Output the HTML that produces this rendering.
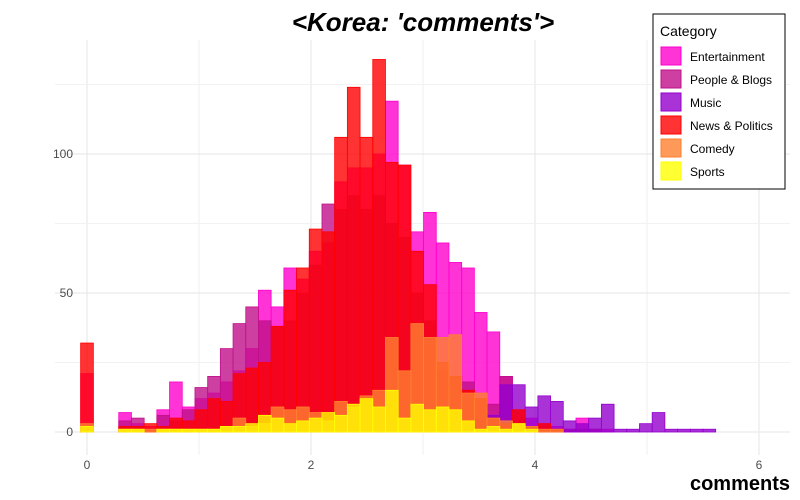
<!DOCTYPE html>
<html><head><meta charset="utf-8"><style>
body{margin:0;background:#fff;}
svg{display:block;font-family:"Liberation Sans",sans-serif;}
</style></head><body>
<svg id="chart" width="800" height="500">
<g id="grid"></g>
<g id="bars"></g>
<g id="axes"></g>
<text x="423" y="31" text-anchor="middle" font-size="26" font-weight="bold" font-style="italic">&lt;Korea: 'comments'&gt;</text>
<text x="790" y="490" text-anchor="end" font-size="20" font-weight="bold">comments</text>
<g id="legend">
<rect x="653" y="14" width="132" height="175" fill="#fff" stroke="#000" stroke-width="1"/>
<text x="660" y="36" font-size="14">Category</text>
</g>
</svg>
<script>
const categories = ["Entertainment","People & Blogs","Music","News & Politics","Comedy","Sports"];
const colors = ["#ff00cc","#c0108a","#9400cc","#ff0000","#ff8030","#ffff00"];
const binWidth = 0.1134;
const entertainment = [21,0,0,7,3,2,8,18,9,12,14,18,22,30,51,45,59,55,65,68,90,95,95,100,119,96,72,79,68,61,59,43,36,20,8,5,3,2,1,5,1,1,0,0,0,0,0,0,0,0];
const peopleBlogs = [0,0,0,4,5,1,6,4,8,16,20,30,39,45,40,38,40,50,60,82,80,85,80,85,75,70,50,40,22,20,18,12,10,20,3,2,2,1,1,1,1,0,0,0,0,0,0,0,0,0];
const music = [0,0,0,0,0,0,0,0,0,0,0,0,0,0,0,0,0,0,0,0,0,0,0,0,0,0,0,0,0,0,2,4,6,17,17,9,13,11,4,3,5,10,1,1,3,7,1,1,1,1];
const news = [32,0,0,2,2,3,2,5,4,8,12,11,21,23,25,38,51,59,73,72,106,124,106,134,97,96,65,53,25,20,15,12,5,3,8,2,3,1,0,0,0,0,0,0,0,0,0,0,0,0];
const comedy = [3,0,0,1,1,1,1,1,1,1,1,2,5,2,3,9,8,9,7,4,11,9,13,15,34,22,39,34,34,35,14,14,5,4,3,2,1,1,0,0,0,0,0,0,0,0,0,0,0,0];
const sports = [2,0,0,1,1,0,1,1,1,1,1,2,2,3,6,5,3,4,5,7,6,10,12,9,15,5,10,8,9,8,4,1,2,1,3,1,0,0,0,0,0,0,0,0,0,0,0,0,0,0];
const xTicks = [0,2,4,6];
const yTicks = [0,50,100];
const series = [entertainment,peopleBlogs,music,news,comedy,sports];

const NS="http://www.w3.org/2000/svg";
const xs = v => 87 + v*112;
const ys = v => 432 - v*2.78;
function mk(tag, attrs, parent){const e=document.createElementNS(NS,tag);for(const k in attrs)e.setAttribute(k,attrs[k]);parent.appendChild(e);return e;}
const grid=document.getElementById('grid'), bars=document.getElementById('bars'), axes=document.getElementById('axes'), legend=document.getElementById('legend');
[1,3,5].forEach(v=>{const l=mk('line',{x1:xs(v),x2:xs(v),y1:40,y2:455,stroke:'#efefef','stroke-width':1},grid);
   });
xTicks.forEach(v=>{const l=mk('line',{x1:xs(v),x2:xs(v),y1:40,y2:455,stroke:'#e6e6e6','stroke-width':1},grid);
   
  const t=mk('text',{x:xs(v),y:469,'text-anchor':'middle','font-size':12,fill:'#4d4d4d'},axes); t.textContent=v;
   });
[25,75,125].forEach(v=>{const l=mk('line',{x1:55,x2:790,y1:ys(v),y2:ys(v),stroke:'#f2f2f2','stroke-width':1},grid);
   });
yTicks.forEach(v=>{const l=mk('line',{x1:55,x2:790,y1:ys(v),y2:ys(v),stroke:'#e6e6e6','stroke-width':1},grid);
   
  const t=mk('text',{x:73,y:ys(v)+4,'text-anchor':'end','font-size':12,fill:'#4d4d4d'},axes); t.textContent=v;
   });
series.forEach((arr,si)=>{arr.forEach((c,i)=>{ if(c<=0) return;
  const x0=xs(i*binWidth-binWidth/2), x1=xs(i*binWidth+binWidth/2);
  const r=mk('rect',{x:x0,y:ys(c),width:x1-x0,height:ys(0)-ys(c),fill:colors[si],'fill-opacity':0.8,stroke:colors[si],'stroke-width':0.8},bars);
  
  });});
categories.forEach((c,i)=>{const y=47+i*23;
  const r=mk('rect',{x:661,y:y,width:20,height:18,fill:colors[i],'fill-opacity':0.8,stroke:colors[i]},legend);
   
  const t=mk('text',{x:690,y:y+14,'font-size':12},legend); t.textContent=c;
   });
</script>
</body></html>
